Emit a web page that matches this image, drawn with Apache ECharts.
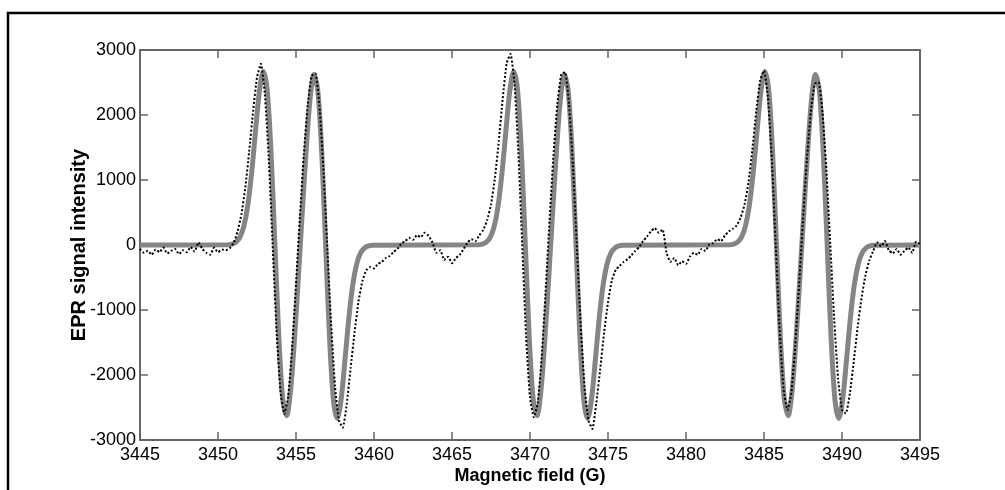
<!DOCTYPE html>
<html><head><meta charset="utf-8">
<script src="https://cdn.jsdelivr.net/npm/echarts@6/dist/echarts.min.js"></script>
<style>html,body{margin:0;padding:0;background:#fff}#c{width:1005px;height:490px}</style>
</head><body><div id="c"></div>
<script>
// Experimental EPR spectrum (dotted)
const expX = [
3445.00,3445.25,3445.50,3445.75,3446.00,3446.25,3446.50,3446.75,
3447.00,3447.25,3447.50,3447.75,3448.00,3448.25,3448.50,3448.75,
3449.00,3449.25,3449.50,3449.75,3450.00,3450.25,3450.50,3450.75,
3451.00,3451.25,3451.50,3451.75,3452.00,3452.25,3452.50,3452.75,
3453.00,3453.25,3453.50,3453.75,3454.00,3454.25,3454.50,3454.75,
3455.00,3455.25,3455.50,3455.75,3456.00,3456.25,3456.50,3456.75,
3457.00,3457.25,3457.50,3457.75,3458.00,3458.25,3458.50,3458.75,
3459.00,3459.25,3459.50,3459.75,3460.00,3460.25,3460.50,3460.75,
3461.00,3461.25,3461.50,3461.75,3462.00,3462.25,3462.50,3462.75,
3463.00,3463.25,3463.50,3463.75,3464.00,3464.25,3464.50,3464.75,
3465.00,3465.25,3465.50,3465.75,3466.00,3466.25,3466.50,3466.75,
3467.00,3467.25,3467.50,3467.75,3468.00,3468.25,3468.50,3468.75,
3469.00,3469.25,3469.50,3469.75,3470.00,3470.25,3470.50,3470.75,
3471.00,3471.25,3471.50,3471.75,3472.00,3472.25,3472.50,3472.75,
3473.00,3473.25,3473.50,3473.75,3474.00,3474.25,3474.50,3474.75,
3475.00,3475.25,3475.50,3475.75,3476.00,3476.25,3476.50,3476.75,
3477.00,3477.25,3477.50,3477.75,3478.00,3478.25,3478.50,3478.75,
3479.00,3479.25,3479.50,3479.75,3480.00,3480.25,3480.50,3480.75,
3481.00,3481.25,3481.50,3481.75,3482.00,3482.25,3482.50,3482.75,
3483.00,3483.25,3483.50,3483.75,3484.00,3484.25,3484.50,3484.75,
3485.00,3485.25,3485.50,3485.75,3486.00,3486.25,3486.50,3486.75,
3487.00,3487.25,3487.50,3487.75,3488.00,3488.25,3488.50,3488.75,
3489.00,3489.25,3489.50,3489.75,3490.00,3490.25,3490.50,3490.75,
3491.00,3491.25,3491.50,3491.75,3492.00,3492.25,3492.50,3492.75,
3493.00,3493.25,3493.50,3493.75,3494.00,3494.25,3494.50,3494.75,
3495.00];
const expY = [
-60,-120,-90,-150,-70,-110,-40,-130,
-90,-60,-140,-80,-110,-30,-100,40,
-60,-120,-150,-40,-110,-70,-80,-50,
30,200,470,880,1440,2060,2580,2790,
2330,1350,10,-1300,-2240,-2600,-2330,-1580,
-600,430,1390,2150,2600,2640,2150,1210,
0,-1210,-2170,-2700,-2810,-2450,-1900,-1350,
-880,-560,-390,-340,-360,-290,-260,-200,
-170,-110,-60,20,60,110,80,150,
120,190,140,40,-120,-80,-230,-180,
-280,-200,-150,-60,40,90,60,150,
230,380,620,1030,1600,2250,2790,2940,
2500,1450,10,-1420,-2350,-2650,-2420,-1720,
-710,370,1370,2160,2620,2660,2170,1230,
0,-1230,-2190,-2700,-2830,-2430,-1910,-1350,
-880,-540,-380,-320,-260,-220,-160,-90,
-30,60,130,210,260,190,240,-120,
-260,-200,-310,-250,-290,-180,-120,-150,
-60,-90,10,30,90,60,150,210,
250,300,420,620,950,1460,2050,2530,
2680,2280,1320,10,-1290,-2210,-2540,-2280,
-1560,-620,390,1310,2050,2480,2500,2040,
1150,0,-1150,-2060,-2540,-2590,-2290,-1800,
-1270,-820,-470,-240,-90,40,-20,60,
-80,-130,-60,-150,-90,-40,-120,50,
20];

// Simulated (fit) spectrum, grey thick line: three groups of two lines
const fitX0 = [3445.00];
const fitY0 = [0];
const fitX1 = [3450.65,3450.90,3451.15,3451.40,3451.65,3451.90,3452.15,3452.40,3452.65,3452.90,
3453.15,3453.40,3453.65,3453.90,3454.15,3454.40,3454.65,3454.90,3455.15,3455.40,
3455.65,3455.90,3456.15,3456.40,3456.65,3456.90,3457.15,3457.40,3457.65,3457.90,
3458.15,3458.40,3458.65,3458.90,3459.15,3459.40,3459.65,3459.90];
const fitY1 = [4,14,43,117,283,596,1096,1740,2360,2668,
2385,1422,0,-1418,-2371,-2625,-2243,-1457,-500,500,
1457,2243,2625,2371,1418,0,-1422,-2385,-2668,-2360,
-1740,-1096,-596,-283,-117,-43,-14,-4];
const fitX2 = [3466.70,3466.95,3467.20,3467.45,3467.70,3467.95,3468.20,3468.45,3468.70,3468.95,
3469.20,3469.45,3469.70,3469.95,3470.20,3470.45,3470.70,3470.95,3471.20,3471.45,
3471.70,3471.95,3472.20,3472.45,3472.70,3472.95,3473.20,3473.45,3473.70,3473.95,
3474.20,3474.45,3474.70,3474.95,3475.20,3475.45,3475.70,3475.95];
const fitY2 = [4,14,43,117,283,596,1096,1740,2360,2668,
2385,1422,0,-1418,-2371,-2625,-2243,-1457,-500,500,
1457,2243,2625,2371,1418,0,-1422,-2385,-2668,-2360,
-1740,-1096,-596,-283,-117,-43,-14,-4];
const fitX3 = [3482.80,3483.05,3483.30,3483.55,3483.80,3484.05,3484.30,3484.55,3484.80,3485.05,
3485.30,3485.55,3485.80,3486.05,3486.30,3486.55,3486.80,3487.05,3487.30,3487.55,
3487.80,3488.05,3488.30,3488.55,3488.80,3489.05,3489.30,3489.55,3489.80,3490.05,
3490.30,3490.55,3490.80,3491.05,3491.30,3491.55,3491.80,3492.05];
const fitY3 = [4,14,43,117,283,596,1096,1740,2360,2668,
2385,1422,0,-1418,-2371,-2625,-2243,-1457,-500,500,
1457,2243,2625,2371,1418,0,-1422,-2385,-2668,-2360,
-1740,-1096,-596,-283,-117,-43,-14,-4];
const fitX4 = [3495.00];
const fitY4 = [0];

const xMin = 3445, xMax = 3495, xStep = 5;
const yMin = -3000, yMax = 3000, yStep = 1000;
const xTitle = 'Magnetic field (G)';
const yTitle = 'EPR signal intensity';

const fitX = [].concat(fitX0, fitX1, fitX2, fitX3, fitX4);
const fitY = [].concat(fitY0, fitY1, fitY2, fitY3, fitY4);
const fitData = fitX.map((x, i) => [x, fitY[i]]);
const expData = expX.map((x, i) => [x, expY[i]]);

const FONT = 'Liberation Sans';
const axisLineStyle = { color: '#333', width: 1.5 };
const tickStyle = { color: '#666', width: 1.5 };
const plain = v => String(v);

const chart = echarts.init(document.getElementById('c'), null, { renderer: 'canvas' });
chart.setOption({
  animation: false,
  backgroundColor: '#fff',
  grid: { left: 140, top: 50, right: 85, bottom: 47, containLabel: false },
  graphic: [{
    type: 'rect', silent: true, z: -10,
    shape: { x: 8, y: 13, width: 1100, height: 600 },
    style: { fill: 'none', stroke: '#000', lineWidth: 2.5 }
  }],
  xAxis: [{
    type: 'value', min: xMin, max: xMax, interval: xStep, position: 'bottom',
    axisLine: { onZero: false, lineStyle: axisLineStyle },
    axisTick: { inside: true, length: 8, lineStyle: tickStyle },
    axisLabel: { color: '#000', fontFamily: FONT, fontSize: 18, margin: 6, formatter: plain },
    splitLine: { show: false },
    name: xTitle, nameLocation: 'middle', nameGap: 27, nameMoveOverlap: false,
    nameTextStyle: { fontFamily: FONT, fontWeight: 'bold', fontSize: 18, color: '#000' }
  }, {
    type: 'value', min: xMin, max: xMax, interval: xStep, position: 'top',
    axisLine: { onZero: false, lineStyle: axisLineStyle },
    axisTick: { inside: true, length: 8, lineStyle: tickStyle },
    axisLabel: { show: false }, splitLine: { show: false }
  }],
  yAxis: [{
    type: 'value', min: yMin, max: yMax, interval: yStep, position: 'left',
    axisLine: { show: true, onZero: false, lineStyle: axisLineStyle },
    axisTick: { show: true, inside: true, length: 8, lineStyle: tickStyle },
    axisLabel: { color: '#000', fontFamily: FONT, fontSize: 18, margin: 4, formatter: plain },
    splitLine: { show: false },
    name: yTitle, nameLocation: 'middle', nameGap: 51, nameMoveOverlap: false,
    nameTextStyle: { fontFamily: FONT, fontWeight: 'bold', fontSize: 20, color: '#000' }
  }, {
    type: 'value', min: yMin, max: yMax, interval: yStep, position: 'right',
    axisLine: { show: true, onZero: false, lineStyle: axisLineStyle },
    axisTick: { show: true, inside: true, length: 8, lineStyle: tickStyle },
    axisLabel: { show: false }, splitLine: { show: false }
  }],
  series: [{
    name: 'Simulated', type: 'line', xAxisIndex: 0, yAxisIndex: 0,
    data: fitData, showSymbol: false, smooth: 0.3,
    lineStyle: { color: '#858585', width: 5 }, z: 2
  }, {
    name: 'Experimental', type: 'line', xAxisIndex: 0, yAxisIndex: 0,
    data: expData, showSymbol: false, smooth: 0.15,
    lineStyle: { color: '#000', width: 2, type: [2, 2] }, z: 3
  }]
});
</script></body></html>
